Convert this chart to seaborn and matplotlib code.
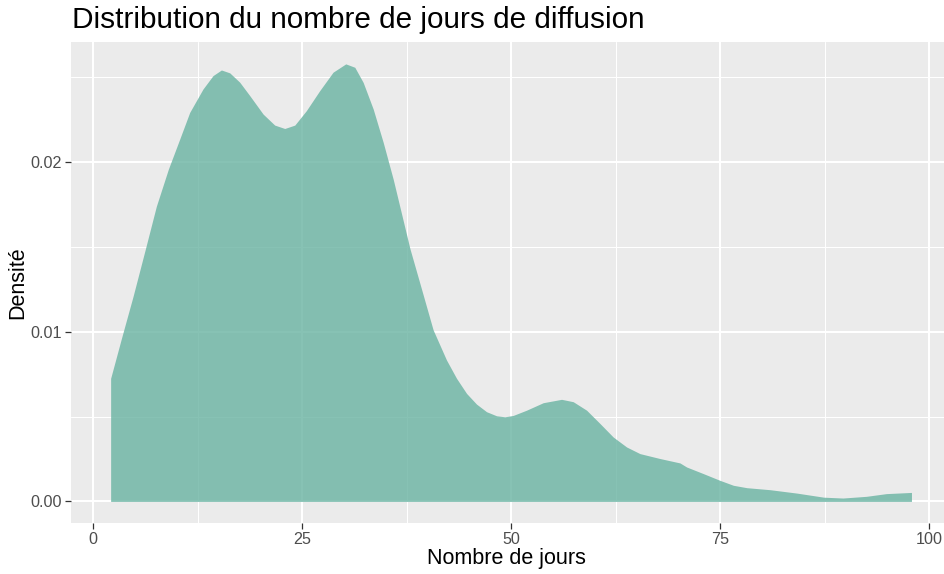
import matplotlib
matplotlib.use("Agg")
import matplotlib.pyplot as plt
import seaborn as sns
import pandas as pd
from matplotlib.ticker import MultipleLocator

# Density curve
jours = [2.09, 3.4, 4.77, 6.2, 7.56, 9.0, 10.35, 11.55, 13.14, 14.34, 15.34, 16.34,
         17.53, 18.73, 20.33, 21.72, 22.92, 24.12, 25.5, 27.1, 28.7, 30.22, 31.3,
         32.3, 33.5, 34.7, 35.9, 37.9, 39.3, 40.67, 42.27, 43.47, 44.67, 45.86,
         47.06, 48.26, 49.25, 50.25, 51.85, 53.84, 56.04, 57.43, 59.03, 60.62,
         62.21, 63.82, 65.41, 67.8, 70.2, 71.0, 73.0, 75.0, 76.6, 78.2, 81.0, 84.2,
         87.4, 89.7, 92.5, 94.9, 97.9]
densite = [0.00726, 0.00965, 0.01209, 0.01480, 0.01741, 0.01960, 0.02136, 0.02294,
           0.02432, 0.02511, 0.02544, 0.02527, 0.02472, 0.02393, 0.02284, 0.02219,
           0.02199, 0.02219, 0.02304, 0.02422, 0.02531, 0.02580, 0.02560, 0.02471,
           0.02314, 0.02117, 0.01899, 0.01490, 0.01249, 0.01012, 0.00834, 0.00726,
           0.00637, 0.00574, 0.00529, 0.00505, 0.00499, 0.00507, 0.00538, 0.00582,
           0.00602, 0.00588, 0.00538, 0.00460, 0.00380, 0.00321, 0.00282, 0.00253,
           0.00227, 0.00203, 0.00164, 0.00124, 0.00095, 0.00081, 0.00069, 0.00049,
           0.00025, 0.00020, 0.00030, 0.00046, 0.00053]

x_ticks = [0, 25, 50, 75, 100]
y_ticks = [0.00, 0.01, 0.02]
y_tick_labels = ["0.00", "0.01", "0.02"]

titre = "Distribution du nombre de jours de diffusion"
x_titre = "Nombre de jours"
y_titre = "Densité"

df = pd.DataFrame({"jours": jours, "densite": densite})

sns.set_theme(style="darkgrid", rc={
    "axes.facecolor": "#EBEBEB",
    "grid.color": "white",
    "axes.edgecolor": "none",
})
plt.rcParams["font.family"] = ["Liberation Sans", "DejaVu Sans"]

W, H = 944, 574
fig = plt.figure(figsize=(W / 100, H / 100), dpi=100)
left, right, top, bottom = 70.6, 951.5, 42.0, 523.3
ax = fig.add_axes([left / W, 1 - bottom / H, (right - left) / W, (bottom - top) / H])

ax.fill_between(df["jours"], 0, df["densite"], color="#69b3a2", alpha=0.8,
                linewidth=0, zorder=3)

ymax = max(densite)
xr = max(jours) - min(jours)
ax.set_xlim(min(jours) - 0.05 * xr, max(jours) + 0.05 * xr)
ax.set_ylim(-0.05 * ymax, ymax * 1.05)

ax.set_xticks(x_ticks)
ax.set_xticklabels([str(t) for t in x_ticks])
ax.set_yticks(y_ticks)
ax.set_yticklabels(y_tick_labels)
ax.xaxis.set_minor_locator(MultipleLocator(12.5))
ax.yaxis.set_minor_locator(MultipleLocator(0.005))

ax.grid(which="major", color="white", linewidth=1.45, zorder=0)
ax.grid(which="minor", color="white", linewidth=0.75, zorder=0)
ax.set_axisbelow(True)

ax.tick_params(axis="both", which="major", length=4, width=0.9, color="#333333",
               labelcolor="#4D4D4D", labelsize=11.6, pad=2.5, bottom=True, left=True)
ax.tick_params(axis="both", which="minor", length=0)

ax.set_xlabel(x_titre, fontsize=15.5, color="black")
ax.set_ylabel(y_titre, fontsize=15.5, color="black", labelpad=1)
ax.xaxis.set_label_coords((506.7 - left) / (right - left), -(548 - bottom) / (bottom - top))

fig.text(72.5 / W, 1 - 19.5 / H, titre, fontsize=21.4, color="black",
         ha="left", va="center")

for s in ax.spines.values():
    s.set_visible(False)

fig.savefig("out.png", dpi=100, facecolor="white")
